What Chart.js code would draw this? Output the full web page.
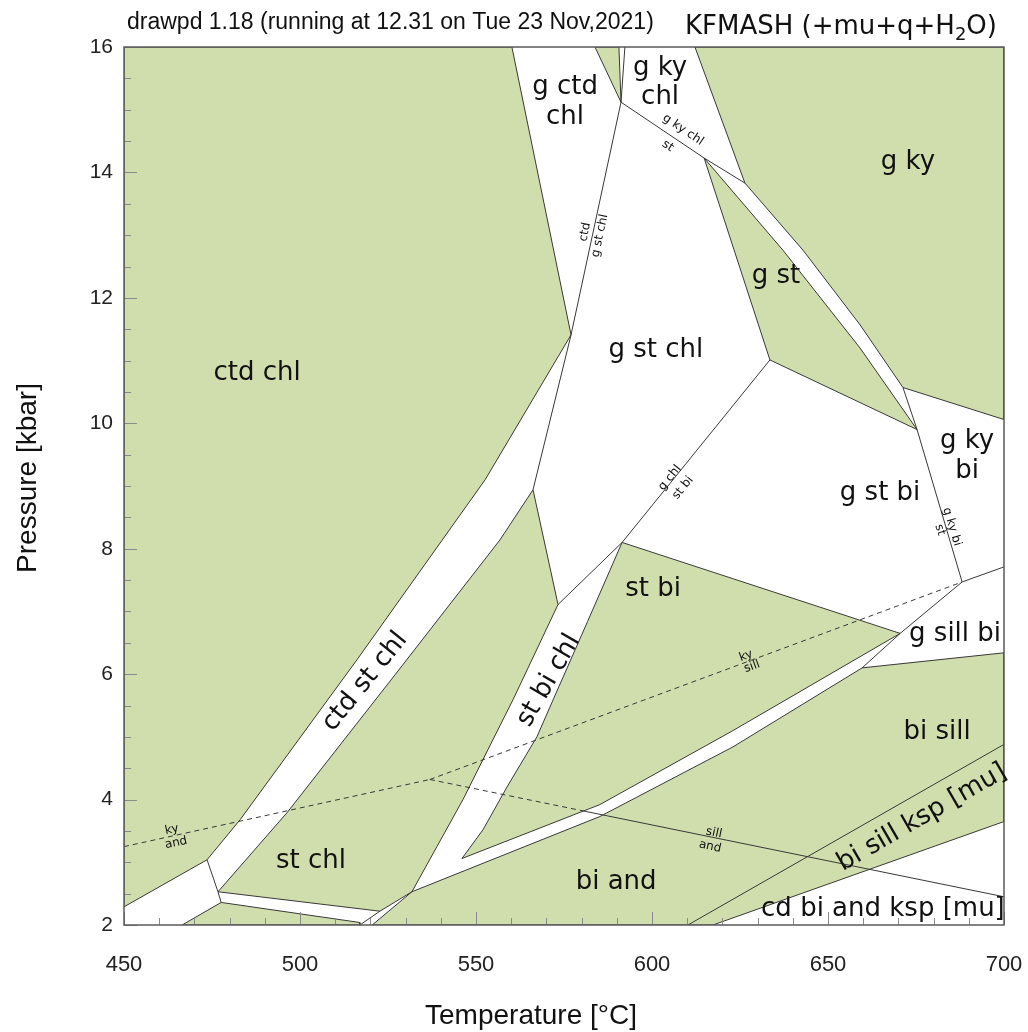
<!DOCTYPE html>
<html>
<head>
<meta charset="utf-8">
<script src="https://cdn.jsdelivr.net/npm/chart.js@4.4.1/dist/chart.umd.min.js"></script>
<style>
  html, body { margin: 0; padding: 0; background: #fff; }
  canvas { display: block; }
</style>
</head>
<body>
<canvas id="chart" width="1028" height="1032"></canvas>
<script>
// axis ranges (tick labels every 50 °C / 2 kbar)
const tempTicks = [450, 500, 550, 600, 650, 700]
const pressTicks = [2, 4, 6, 8, 10, 12, 14, 16]

// shaded fields, vertices as [T °C, P kbar]
const ctdChl = [[450, 16], [560.2, 16], [577.0, 11.41], [552.6, 9.10], [516.2, 6.23], [483.0, 3.68], [473.6, 3.04], [450, 2.29], [450, 16]]
const gCtdWedge = [[583.8, 16], [590.6, 16], [591.2, 15.12], [583.8, 16]]
const gKy = [[612.2, 16], [700, 16], [700, 10.06], [671.3, 10.57], [659.1, 11.57], [642.9, 12.76], [626.4, 13.83], [612.2, 16]]
const gSt = [[614.8, 14.23], [637.2, 12.76], [659.1, 11.20], [675.3, 9.90], [633.5, 11.01], [614.8, 14.23]]
const stChl = [[566.2, 8.94], [573.3, 7.11], [560.5, 5.59], [552.0, 4.64], [546.3, 4.00], [538.9, 3.25], [531.8, 2.53], [522.7, 2.22],
  [476.7, 2.53], [496.3, 3.79], [527.0, 5.99], [556.8, 8.14], [566.2, 8.94]]
const stBi = [[591.5, 8.10], [670.5, 6.65], [623.0, 5.10], [585.2, 3.92], [546.0, 3.06], [552.0, 3.52], [558.8, 4.20], [567.3, 5.00],
  [571.9, 5.59], [581.7, 6.84], [591.5, 8.10]]
const biAnd = [[520.5, 2], [531.8, 2.53], [585.2, 3.73], [623.0, 4.84], [659.7, 6.10], [700, 6.34], [700, 3.65], [617.3, 2], [520.5, 2]]
const lowGreen = [[466.5, 2], [477.6, 2.36], [517.0, 2.04], [517.0, 2], [466.5, 2]]

// boundaries between unshaded fields
const solidLines = [
  [[592.3, 16], [591.2, 15.12]],
  [[591.2, 15.12], [577.0, 11.41]],
  [[591.2, 15.12], [614.8, 14.23], [626.4, 13.83]],
  [[577.0, 11.41], [566.2, 8.94]],
  [[573.3, 7.11], [591.5, 8.10], [605.1, 9.04], [633.5, 11.01]],
  [[671.3, 10.57], [675.3, 9.90], [688.1, 7.47]],
  [[688.1, 7.47], [700, 7.71]],
  [[688.1, 7.47], [670.5, 6.65], [659.7, 6.10]],
  [[473.6, 3.04], [476.7, 2.53], [477.6, 2.36]],
  [[522.7, 2.22], [517.0, 2.0]],
  [[610.2, 2], [700, 4.88]],
  [[579.5, 3.83], [700, 2.45]]
]
// Al2SiO5 reactions
const kyAnd = [[450, 3.25], [536.9, 4.32]]
const kySill = [[536.9, 4.32], [688.1, 7.47]]
const sillAnd = [[536.9, 4.32], [579.5, 3.83]]

// field names [text, T, P, angle]
const fieldLabels = [
  ["ctd chl", 487.8, 10.80, 0], ["g ctd\nchl", 575.3, 15.12, 0], ["g ky\nchl", 602.3, 15.43, 0],
  ["g ky", 672.7, 14.17, 0], ["g st", 635.2, 12.35, 0], ["g st chl", 601.1, 11.16, 0],
  ["g ky\nbi", 689.5, 9.48, 0], ["g st bi", 664.8, 8.88, 0], ["st bi", 600.3, 7.35, 0],
  ["g sill bi", 686.1, 6.63, 0], ["bi sill", 681.0, 5.08, 0], ["st chl", 503.1, 3.01, 0],
  ["bi and", 589.8, 2.68, 0], ["cd bi and ksp [mu]", 665.6, 2.25, 0],
  ["ctd st chl", 518.5, 5.88, -51], ["st bi chl", 570.7, 5.90, -60], ["bi sill ksp [mu]", 676.7, 3.71, -30]
]
const lineLabels = [
  ["ctd", 581.0, 13.05, -78], ["g st chl", 585.2, 12.99, -78],
  ["g ky chl", 608.8, 14.68, 34], ["st", 604.5, 14.42, 34],
  ["g chl", 605.1, 9.13, -51], ["st bi", 608.8, 8.97, -51],
  ["g ky bi", 685.2, 8.35, 73], ["st", 681.8, 8.30, 73],
  ["ky", 463.6, 3.52, -12], ["and", 464.8, 3.31, -12],
  ["ky", 626.7, 6.29, -20], ["sill", 628.4, 6.12, -20],
  ["sill", 617.6, 3.47, 12], ["and", 616.5, 3.25, 12]
]

const GREEN = "#d0dead"
const INK = "#383838"
const LABEL_FONT = "'DejaVu Sans', Verdana, sans-serif"
const AXIS_FONT = "'Liberation Sans', Arial, sans-serif"

const pts = (arr) => arr.map(([x, y]) => ({ x, y }))

const polygon = (arr) => ({
  data: pts(arr), showLine: true, fill: "shape", tension: 0,
  backgroundColor: GREEN, borderColor: INK, borderWidth: 1, pointRadius: 0
})

const line = (arr, dash) => ({
  data: pts(arr), showLine: true, fill: false, tension: 0,
  borderColor: INK, borderWidth: 1, borderDash: dash || [], pointRadius: 0
})

const textPlugin = {
  id: "texts",
  afterDatasetsDraw(chart) {
    const { ctx, chartArea: a, scales: { x, y } } = chart
    ctx.save()

    // minor ticks inside the frame
    ctx.strokeStyle = "#8a8a8a"
    ctx.lineWidth = 1
    for (let t = tempTicks[0]; t <= tempTicks[tempTicks.length - 1]; t += 10) {
      const px = Math.round(x.getPixelForValue(t)) + 0.5
      const len = t % 50 === 0 ? 13 : 7
      ctx.beginPath(); ctx.moveTo(px, a.bottom); ctx.lineTo(px, a.bottom - len); ctx.stroke()
    }
    for (let p = pressTicks[0]; p <= pressTicks[pressTicks.length - 1]; p += 0.5) {
      const py = Math.round(y.getPixelForValue(p)) + 0.5
      const len = p % 2 === 0 ? 13 : 7
      ctx.beginPath(); ctx.moveTo(a.left, py); ctx.lineTo(a.left + len, py); ctx.stroke()
    }

    // frame
    ctx.strokeStyle = "#5a5a5a"
    ctx.lineWidth = 1.5
    ctx.strokeRect(a.left, a.top, a.right - a.left, a.bottom - a.top)

    // labels
    ctx.fillStyle = "#111"
    ctx.textAlign = "center"
    ctx.textBaseline = "middle"
    const draw = (list, size) => {
      ctx.font = `${size}px ${LABEL_FONT}`
      list.forEach(([txt, t, p, ang]) => {
        const rows = txt.split("\n")
        const lh = size * 1.15
        ctx.save()
        ctx.translate(x.getPixelForValue(t), y.getPixelForValue(p))
        ctx.rotate(ang * Math.PI / 180)
        rows.forEach((r, i) => ctx.fillText(r, 0, (i - (rows.length - 1) / 2) * lh))
        ctx.restore()
      })
    }
    draw(fieldLabels, 26)
    draw(lineLabels, 12)

    // header
    ctx.textAlign = "left"
    ctx.textBaseline = "alphabetic"
    ctx.font = `23px ${AXIS_FONT}`
    ctx.fillText("drawpd 1.18 (running at 12.31 on Tue 23 Nov,2021)", 127, 29)
    ctx.font = `26px ${LABEL_FONT}`
    let hx = 685
    const head = "KFMASH (+mu+q+H"
    ctx.fillText(head, hx, 34)
    hx += ctx.measureText(head).width
    ctx.font = `18px ${LABEL_FONT}`
    ctx.fillText("2", hx, 40)
    hx += ctx.measureText("2").width
    ctx.font = `26px ${LABEL_FONT}`
    ctx.fillText("O)", hx, 34)

    // axis titles
    ctx.textAlign = "center"
    ctx.textBaseline = "middle"
    ctx.font = `28px ${AXIS_FONT}`
    ctx.fillText("Temperature [°C]", 531, 1016)
    ctx.translate(28, (a.top + a.bottom) / 2 - 8)
    ctx.rotate(-Math.PI / 2)
    ctx.fillText("Pressure [kbar]", 0, 0)
    ctx.restore()
  }
}

const datasets = [
  polygon(ctdChl), polygon(gCtdWedge), polygon(gKy), polygon(gSt),
  polygon(stChl), polygon(stBi), polygon(biAnd), polygon(lowGreen),
  ...solidLines.map((l) => line(l)),
  line(kyAnd, [5, 4]), line(kySill, [5, 4]), line(sillAnd, [5, 4])
]

new Chart(document.getElementById("chart"), {
  type: "scatter",
  data: { datasets },
  options: {
    responsive: false,
    animation: false,
    layout: { padding: { top: 47, right: 24, left: 0, bottom: 0 } },
    plugins: {
      legend: { display: false },
      tooltip: { enabled: false },
      filler: { drawTime: "beforeDatasetsDraw" }
    },
    scales: {
      x: {
        type: "linear",
        min: tempTicks[0],
        max: tempTicks[tempTicks.length - 1],
        afterFit: (s) => { s.height = 107; s.paddingLeft = 0; s.paddingRight = 0 },
        grid: { display: false, drawTicks: false },
        border: { display: false },
        ticks: { stepSize: 50, padding: 27, color: "#222", font: { family: AXIS_FONT, size: 22 } }
      },
      y: {
        type: "linear",
        min: pressTicks[0],
        max: pressTicks[pressTicks.length - 1],
        afterFit: (s) => { s.width = 124; s.paddingTop = 0; s.paddingBottom = 0 },
        grid: { display: false, drawTicks: false },
        border: { display: false },
        ticks: { stepSize: 2, padding: 11, color: "#222", font: { family: AXIS_FONT, size: 21 } }
      }
    }
  },
  plugins: [textPlugin]
})
</script>
</body>
</html>
